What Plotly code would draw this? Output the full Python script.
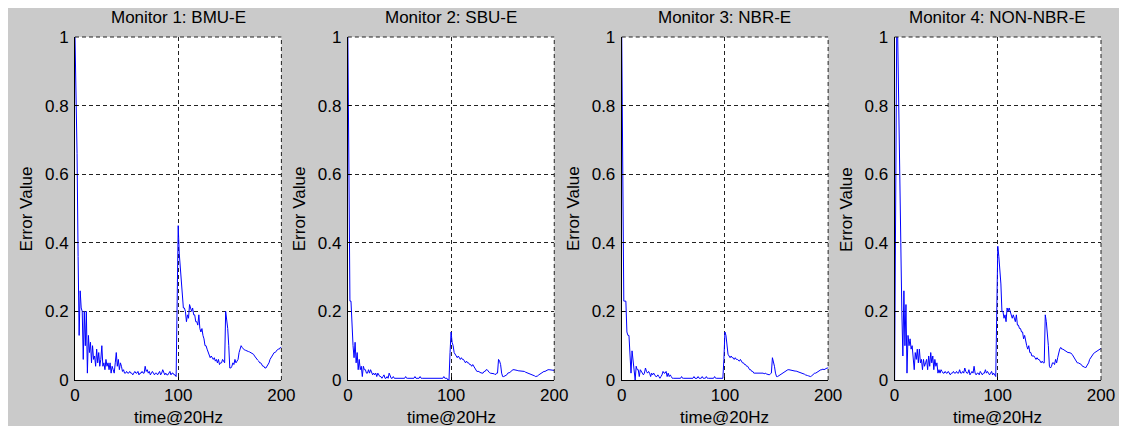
import plotly.graph_objects as go

# ---------------- data ----------------
titles = ["Monitor 1: BMU-E", "Monitor 2: SBU-E", "Monitor 3: NBR-E", "Monitor 4: NON-NBR-E"]
x_label = "time@20Hz"
y_label = "Error Value"
x_ticks = [0, 100, 200]
y_ticks = [0, 0.2, 0.4, 0.6, 0.8, 1]
y_ticktext = ["0", "0.2", "0.4", "0.6", "0.8", "1"]

time = list(range(0, 201))

bmu_e = [
    1.00, 0.86, 0.66, 0.36, 0.13, 0.26, 0.21, 0.20, 0.06, 0.20,
    0.10, 0.20, 0.02, 0.13, 0.08, 0.11, 0.05, 0.10, 0.06, 0.07,
    0.04, 0.09, 0.05, 0.08, 0.04, 0.06, 0.10, 0.04, 0.05, 0.03,
    0.06, 0.04, 0.05, 0.03, 0.05, 0.02, 0.04, 0.03, 0.02, 0.05,
    0.08, 0.04, 0.06, 0.03, 0.05, 0.04, 0.025, 0.03, 0.02, 0.02,
    0.025, 0.02, 0.02, 0.025, 0.02, 0.02, 0.015, 0.02, 0.025, 0.02,
    0.02, 0.025, 0.015, 0.02, 0.02, 0.025, 0.02, 0.02, 0.04, 0.025,
    0.03, 0.02, 0.025, 0.015, 0.02, 0.025, 0.02, 0.015, 0.02, 0.02,
    0.015, 0.02, 0.025, 0.015, 0.02, 0.03, 0.02, 0.015, 0.02, 0.015,
    0.015, 0.02, 0.025, 0.015, 0.02, 0.02, 0.015, 0.015, 0.01, 0.23,
    0.45, 0.37, 0.33, 0.30, 0.27, 0.21, 0.21, 0.20, 0.17, 0.19,
    0.18, 0.22, 0.21, 0.20, 0.21, 0.19, 0.19, 0.17, 0.17, 0.16,
    0.19, 0.15, 0.14, 0.15, 0.13, 0.12, 0.10, 0.10, 0.09, 0.08,
    0.07, 0.065, 0.07, 0.065, 0.06, 0.065, 0.055, 0.06, 0.05, 0.06,
    0.045, 0.05, 0.05, 0.06, 0.055, 0.05, 0.20, 0.18, 0.15, 0.10,
    0.035, 0.035, 0.04, 0.05, 0.045, 0.06, 0.05, 0.055, 0.06, 0.08,
    0.09, 0.10, 0.095, 0.09, 0.088, 0.087, 0.085, 0.085, 0.083, 0.082,
    0.08, 0.08, 0.078, 0.075, 0.07, 0.065, 0.06, 0.058, 0.055, 0.05,
    0.05, 0.045, 0.04, 0.04, 0.035, 0.035, 0.04, 0.045, 0.05, 0.06,
    0.065, 0.07, 0.075, 0.08, 0.08, 0.085, 0.088, 0.09, 0.09, 0.095,
    0.095,
]

sbu_e = [
    1.00, 0.61, 0.23, 0.23, 0.14, 0.10, 0.065, 0.11, 0.05, 0.08,
    0.03, 0.06, 0.03, 0.04, 0.01, 0.04, 0.03, 0.03, 0.02, 0.02,
    0.03, 0.02, 0.03, 0.02, 0.015, 0.02, 0.015, 0.02, 0.01, 0.02,
    0.015, 0.01, 0.01, 0.005, 0.01, 0.015, 0.005, 0.005, 0.01, 0.005,
    0.02, 0.01, 0.005, 0.005, 0.01, 0.005, 0.005, 0.005, 0.005, 0.005,
    0.005, 0.005, 0.005, 0.005, 0.005, 0.005, 0.01, 0.005, 0.005, 0.005,
    0.005, 0.005, 0.005, 0.005, 0.005, 0.01, 0.005, 0.005, 0.005, 0.005,
    0.01, 0.005, 0.005, 0.005, 0.005, 0.005, 0.005, 0.005, 0.005, 0.005,
    0.005, 0.005, 0.005, 0.005, 0.005, 0.005, 0.005, 0.005, 0.005, 0.005,
    0.005, 0.005, 0.005, 0.01, 0.005, 0.005, 0.005, 0.0, 0.0, 0.08,
    0.14, 0.11, 0.10, 0.08, 0.075, 0.07, 0.065, 0.07, 0.065, 0.06,
    0.065, 0.06, 0.06, 0.055, 0.05, 0.055, 0.05, 0.05, 0.045, 0.045,
    0.04, 0.045, 0.04, 0.035, 0.03, 0.025, 0.025, 0.025, 0.022, 0.02,
    0.02, 0.02, 0.025, 0.025, 0.03, 0.03, 0.025, 0.022, 0.02, 0.02,
    0.02, 0.02, 0.018, 0.015, 0.02, 0.02, 0.06, 0.055, 0.045, 0.02,
    0.01, 0.01, 0.012, 0.015, 0.015, 0.02, 0.02, 0.022, 0.025, 0.028,
    0.03, 0.03, 0.03, 0.028, 0.028, 0.027, 0.027, 0.026, 0.026, 0.025,
    0.025, 0.025, 0.023, 0.022, 0.02, 0.02, 0.018, 0.017, 0.015, 0.015,
    0.013, 0.012, 0.01, 0.01, 0.012, 0.015, 0.017, 0.02, 0.02, 0.022,
    0.025, 0.025, 0.027, 0.028, 0.03, 0.03, 0.03, 0.03, 0.028, 0.028,
    0.028,
]

nbr_e = [
    1.00, 0.61, 0.23, 0.23, 0.23, 0.14, 0.13, 0.13, 0.05, 0.02,
    0.085, 0.06, 0.03, 0.0, 0.04, 0.03, 0.03, 0.01, 0.03, 0.025,
    0.02, 0.015, 0.02, 0.035, 0.025, 0.02, 0.025, 0.02, 0.01, 0.02,
    0.015, 0.02, 0.015, 0.01, 0.01, 0.015, 0.01, 0.005, 0.01, 0.015,
    0.025, 0.02, 0.02, 0.025, 0.01, 0.02, 0.01, 0.015, 0.01, 0.005,
    0.005, 0.005, 0.005, 0.005, 0.005, 0.005, 0.005, 0.005, 0.01, 0.005,
    0.005, 0.005, 0.005, 0.005, 0.005, 0.005, 0.005, 0.005, 0.005, 0.005,
    0.01, 0.005, 0.005, 0.005, 0.01, 0.005, 0.005, 0.005, 0.01, 0.005,
    0.005, 0.005, 0.01, 0.005, 0.005, 0.005, 0.005, 0.005, 0.005, 0.005,
    0.01, 0.005, 0.005, 0.005, 0.005, 0.005, 0.005, 0.005, 0.005, 0.06,
    0.14, 0.13, 0.10, 0.075, 0.07, 0.065, 0.07, 0.065, 0.065, 0.06,
    0.065, 0.06, 0.06, 0.058, 0.055, 0.06, 0.055, 0.05, 0.05, 0.045,
    0.045, 0.04, 0.04, 0.035, 0.03, 0.03, 0.025, 0.025, 0.02, 0.02,
    0.02, 0.02, 0.022, 0.02, 0.02, 0.02, 0.022, 0.02, 0.018, 0.02,
    0.018, 0.017, 0.016, 0.015, 0.018, 0.02, 0.065, 0.055, 0.04, 0.02,
    0.01, 0.01, 0.012, 0.015, 0.018, 0.02, 0.02, 0.022, 0.025, 0.028,
    0.03, 0.03, 0.03, 0.029, 0.028, 0.028, 0.027, 0.027, 0.026, 0.026,
    0.025, 0.025, 0.023, 0.022, 0.02, 0.02, 0.018, 0.017, 0.015, 0.015,
    0.013, 0.012, 0.01, 0.01, 0.012, 0.015, 0.017, 0.02, 0.02, 0.022,
    0.025, 0.025, 0.028, 0.03, 0.03, 0.032, 0.03, 0.032, 0.033, 0.035,
    0.035,
]

non_nbr_e = [
    0.0, 0.50, 1.00, 1.00, 0.75, 0.49, 0.40, 0.20, 0.07, 0.26,
    0.10, 0.22, 0.02, 0.13, 0.10, 0.12, 0.09, 0.10, 0.05, 0.03,
    0.08, 0.06, 0.09, 0.05, 0.09, 0.05, 0.06, 0.03, 0.06, 0.04,
    0.05, 0.06, 0.03, 0.07, 0.04, 0.08, 0.05, 0.07, 0.03, 0.06,
    0.04, 0.05, 0.02, 0.03, 0.02, 0.03, 0.025, 0.02, 0.02, 0.025,
    0.02, 0.02, 0.025, 0.02, 0.015, 0.02, 0.02, 0.025, 0.02, 0.02,
    0.025, 0.02, 0.02, 0.03, 0.02, 0.02, 0.025, 0.02, 0.035, 0.025,
    0.02, 0.02, 0.03, 0.015, 0.02, 0.025, 0.02, 0.04, 0.02, 0.015,
    0.02, 0.02, 0.015, 0.025, 0.02, 0.015, 0.02, 0.02, 0.03, 0.02,
    0.025, 0.02, 0.015, 0.02, 0.025, 0.015, 0.02, 0.015, 0.01, 0.20,
    0.39, 0.36, 0.32, 0.28, 0.20, 0.20, 0.18, 0.19, 0.17, 0.21,
    0.20, 0.21, 0.20, 0.19, 0.18, 0.19, 0.18, 0.17, 0.19, 0.16,
    0.16, 0.15, 0.15, 0.14, 0.14, 0.12, 0.13, 0.11, 0.10, 0.09,
    0.10, 0.08, 0.08, 0.07, 0.07, 0.07, 0.065, 0.06, 0.065, 0.06,
    0.06, 0.055, 0.05, 0.055, 0.05, 0.05, 0.19, 0.17, 0.14, 0.10,
    0.04, 0.035, 0.04, 0.05, 0.05, 0.045, 0.06, 0.05, 0.065, 0.08,
    0.09, 0.095, 0.09, 0.09, 0.088, 0.085, 0.085, 0.083, 0.08, 0.08,
    0.08, 0.078, 0.075, 0.07, 0.065, 0.06, 0.055, 0.05, 0.05, 0.048,
    0.045, 0.045, 0.04, 0.04, 0.038, 0.035, 0.04, 0.045, 0.05, 0.06,
    0.065, 0.07, 0.075, 0.078, 0.08, 0.082, 0.085, 0.088, 0.09, 0.09,
    0.092,
]

series = [bmu_e, sbu_e, nbr_e, non_nbr_e]

# ---------------- layout (pixel geometry, figure coordinates) ----------------
# the page adds an 8px body margin, so the figure is drawn 8px in from the top-left
W, H = 1119, 418
ML, MR, MT, MB = 67, 18, 29, 46
PW = W - ML - MR
PH = H - MT - MB
panel_px = [(67, 275), (342, 550), (618, 826), (893, 1101)]

BG = "#cacaca"
FONT = "Liberation Sans, Arial, sans-serif"
FS = 17
GRID_DASH = "4px,3px"
GRID_COLOR = "#222222"


def px_to_paper_x(px):
    return (px - ML) / PW


def px_to_paper_y(py):
    return (H - MB - py) / PH


fig = go.Figure()
annotations = []
shapes = []
for i, (vals, ttl) in enumerate(zip(series, titles)):
    n = i + 1
    xa = "x" if n == 1 else f"x{n}"
    ya = "y" if n == 1 else f"y{n}"
    fig.add_trace(go.Scatter(
        x=time, y=vals, xaxis=xa, yaxis=ya, mode="lines",
        line=dict(color="#0000ff", width=1), showlegend=False,
        hoverinfo="skip",
    ))
    l, r = panel_px[i]
    dom = [px_to_paper_x(l), px_to_paper_x(r)]
    common = dict(
        showgrid=True, gridcolor=GRID_COLOR, griddash=GRID_DASH, gridwidth=1,
        showline=True, linecolor="#000000", linewidth=1, mirror=False,
        ticks="inside", ticklen=3, tickcolor="#000000", zeroline=False,
        tickfont=dict(family=FONT, size=FS, color="#000000"),
        fixedrange=True,
    )
    fig.layout[f"xaxis{'' if n == 1 else n}"] = dict(
        domain=dom, range=[0, 200], anchor=ya, tickvals=x_ticks,
        ticktext=[str(v) for v in x_ticks], ticklabelstandoff=0, **common)
    fig.layout[f"yaxis{'' if n == 1 else n}"] = dict(
        domain=[0, 1], range=[0, 1], anchor=xa, tickvals=y_ticks,
        ticktext=y_ticktext, ticklabelstandoff=2, **common)
    # dashed grid lines along the top and right edges of each panel
    shapes.append(dict(type="line", xref=f"{xa} domain", yref=f"{ya} domain",
                       x0=0, x1=1, y0=1, y1=1, layer="above",
                       line=dict(color=GRID_COLOR, width=1, dash=GRID_DASH)))
    shapes.append(dict(type="line", xref=f"{xa} domain", yref=f"{ya} domain",
                       x0=1, x1=1, y0=0, y1=1, layer="above",
                       line=dict(color=GRID_COLOR, width=1, dash=GRID_DASH)))
    cx = (l + r) / 2
    annotations.append(dict(
        text=ttl, x=px_to_paper_x(cx), y=px_to_paper_y(10), xref="paper", yref="paper",
        xanchor="center", yanchor="middle", showarrow=False,
        font=dict(family=FONT, size=FS, color="#000000")))
    annotations.append(dict(
        text=x_label, x=px_to_paper_x(cx), y=px_to_paper_y(409), xref="paper", yref="paper",
        xanchor="center", yanchor="middle", showarrow=False,
        font=dict(family=FONT, size=FS, color="#000000")))
    annotations.append(dict(
        text=y_label, x=px_to_paper_x(l - 49), y=px_to_paper_y(201), xref="paper", yref="paper",
        xanchor="center", yanchor="middle", showarrow=False, textangle=-90,
        font=dict(family=FONT, size=FS, color="#000000")))

fig.update_layout(
    width=W, height=H,
    margin=dict(l=ML, r=MR, t=MT, b=MB, pad=0),
    paper_bgcolor=BG, plot_bgcolor="#ffffff",
    annotations=annotations, shapes=shapes,
    font=dict(family=FONT, size=FS, color="#000000"),
)

fig.write_html("out.html", config={"displayModeBar": False})
